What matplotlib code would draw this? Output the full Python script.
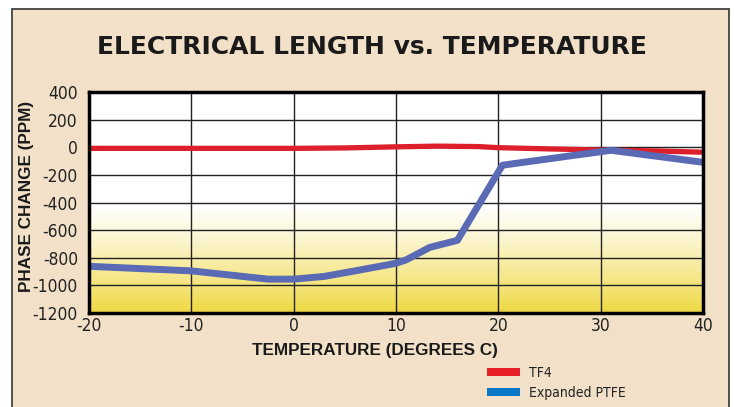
import numpy as np
import matplotlib.pyplot as plt
from matplotlib.patches import Rectangle, Patch

plt.rcParams['axes.unicode_minus'] = False

# data
temp_tf4 = [-20, -10, 0, 5, 10, 14, 18, 20, 25, 30, 35, 40]
phase_tf4 = [-8, -8, -8, -5, 3, 8, 5, -3, -12, -20, -26, -36]

temp_eptfe = [-20, -10, -6, -2.5, 0, 3, 6, 10, 11, 13.3, 16, 20.4, 31, 40]
phase_eptfe = [-862, -895, -927, -955, -955, -935, -895, -840, -815, -725, -674, -130, -22, -109]

x_ticks = [-20, -10, 0, 10, 20, 30, 40]
y_ticks = [400, 200, 0, -200, -400, -600, -800, -1000, -1200]

beige = '#F2E1C8'

fig = plt.figure(figsize=(7.34, 4.07), dpi=100, facecolor='white')
fig.patches.append(Rectangle((12 / 734, -0.01), 717 / 734, 1 - 9 / 407 + 0.01,
                             transform=fig.transFigure, facecolor=beige,
                             edgecolor='#333333', linewidth=1.2, zorder=-5))

ax = fig.add_axes([89 / 734, 1 - 313 / 407, 614 / 734, 221 / 407])

# white-to-yellow background below -400
grad = np.linspace(0, 1, 256)
top = np.array([1.0, 1.0, 1.0])
bot = np.array([240, 216, 66]) / 255
img = np.ones((256, 1, 3))
for i in range(3):
    img[:, 0, i] = top[i] + (bot[i] - top[i]) * grad ** 1.25
ax.imshow(img, extent=[-20, 40, -1200, -400], aspect='auto', zorder=0, origin='upper')
ax.set_facecolor('white')

ax.plot(temp_tf4, phase_tf4, color='#DC1F2B', linewidth=3.8, zorder=3, solid_capstyle='butt')
ax.plot(temp_eptfe, phase_eptfe, color='#5A6AB4', linewidth=5, zorder=3,
        solid_capstyle='butt', solid_joinstyle='round')

ax.set_xlim(-20, 40)
ax.set_ylim(-1200, 400)
ax.set_xticks(x_ticks)
ax.set_yticks(y_ticks)
ax.grid(True, color='#222222', linewidth=1.0, zorder=1)
ax.set_axisbelow(False)
ax.tick_params(axis='x', length=0, pad=3)
ax.tick_params(axis='y', length=0, pad=8)
for lab in ax.get_xticklabels() + ax.get_yticklabels():
    lab.set_family('DejaVu Sans')
    lab.set_fontstretch('condensed')
    lab.set_fontsize(12.5)
    lab.set_color('#222222')
for s in ax.spines.values():
    s.set_linewidth(2.5)
    s.set_color('black')
    s.set_zorder(5)

fig.text(372 / 734, 1 - 47 / 407, 'ELECTRICAL LENGTH vs. TEMPERATURE', ha='center', va='center',
         fontsize=18, fontweight='bold', family='DejaVu Sans', color='#1a1a1a')
fig.text(375 / 734, 1 - 351 / 407, 'TEMPERATURE (DEGREES C)', ha='center', va='center',
         fontsize=12.3, fontweight='bold', family='Liberation Sans', color='#1a1a1a')
fig.text(27 / 734, 1 - 196 / 407, 'PHASE CHANGE (PPM)', ha='center', va='center', rotation=90,
         fontsize=12.3, fontweight='bold', family='Liberation Sans', color='#1a1a1a')

handles = [Patch(facecolor='#E8202A', label='TF4'),
           Patch(facecolor='#0A78C8', label='Expanded PTFE')]
leg = fig.legend(handles=handles, loc='upper left', bbox_to_anchor=(487 / 734, 1 - 366 / 407),
                 frameon=False, handlelength=2.4, handleheight=0.5, handletextpad=0.6,
                 labelspacing=0.45, borderpad=0, borderaxespad=0,
                 prop={'family': 'DejaVu Sans', 'stretch': 'condensed', 'size': 10})
for t in leg.get_texts():
    t.set_color('#222222')

fig.savefig('out.png', dpi=100, facecolor=fig.get_facecolor())
